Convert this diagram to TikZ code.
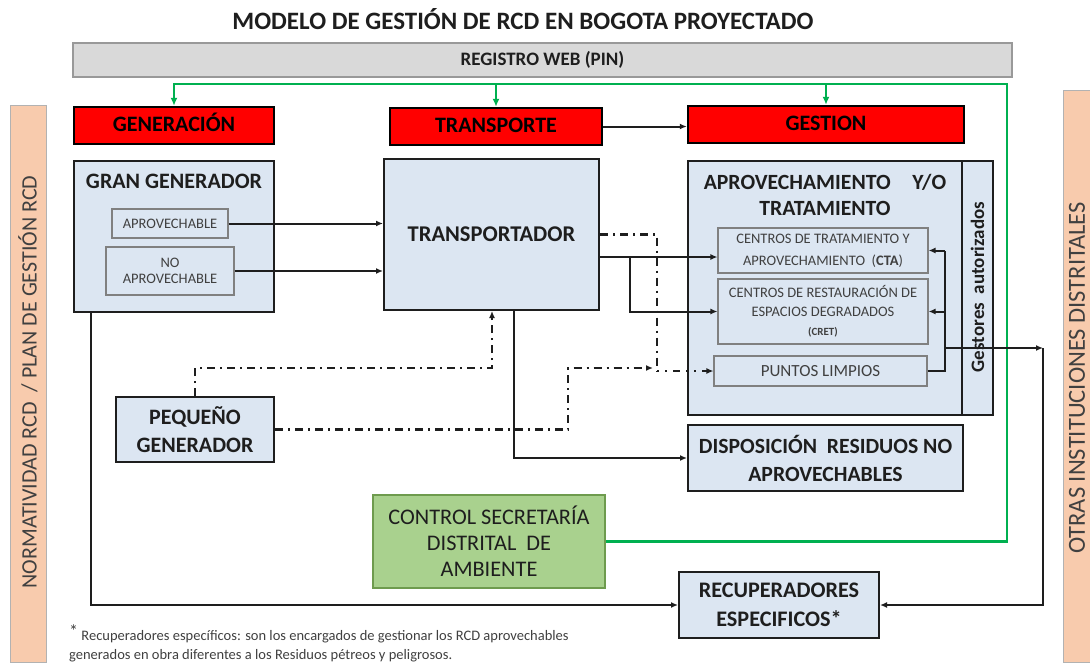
\documentclass[tikz,border=0pt]{standalone}
\usepackage{fontspec}
\setmainfont{Carlito}
\usetikzlibrary{arrows.meta}
\definecolor{boxblue}{HTML}{DCE6F2}
\definecolor{gline}{HTML}{00B050}
\definecolor{ctrlfill}{HTML}{A9D18E}
\definecolor{ctrldraw}{HTML}{6E9B4E}
\definecolor{orangefill}{HTML}{F8CBAD}
\definecolor{barfill}{HTML}{D9D9D9}
\definecolor{txtdark}{HTML}{1E1E1E}
\definecolor{txtgray}{HTML}{404040}
\newcommand\myfs[2]{\fontsize{#1}{#2}\selectfont}
\begin{document}
\begin{tikzpicture}[x=1pt,y=-1pt,
  box/.style={draw=txtdark, line width=2pt, fill=boxblue, inner sep=0pt, align=center, text=txtdark},
  sub/.style={draw=black!50, line width=1.1pt, fill=boxblue, inner sep=0pt, align=center, text=txtgray},
  redbox/.style={draw=black, line width=2.4pt, fill=red, inner sep=0pt, minimum height=37pt, text=black, text height=15pt, text depth=3pt, font=\myfs{22}{24}\bfseries},
  orangebox/.style={draw=black!30, line width=1pt, fill=orangefill, inner sep=0pt},
  sidetxt/.style={rotate=90, text=txtgray, inner sep=0pt},
  btxt/.style={font=\myfs{22}{26}\bfseries, text=txtdark, align=center},
  tip/.style={-{Latex[length=7pt,width=6pt]}},
  arr/.style={draw=txtdark, line width=2pt, tip},
  ln/.style={draw=txtdark, line width=2pt},
  dd/.style={draw=txtdark, line width=2.2pt, dash pattern=on 8pt off 5pt on 2pt off 5pt},
  dots/.style={draw=txtdark, line width=2.2pt, dash pattern=on 2pt off 6pt on 2pt off 6pt on 7pt off 6pt},
  gl/.style={draw=gline, line width=2.4pt},
  gtip/.style={-{Latex[length=8pt,width=7pt]}}
]
\useasboundingbox (0,0) rectangle (1090,665);
\fill[white] (0,0) rectangle (1090,665);

% title and registro bar
\node[font=\myfs{25}{28}\bfseries, text=txtdark] (title) at (523,19) {MODELO DE GESTIÓN DE RCD EN BOGOTA PROYECTADO};
\node[draw=black!40, line width=1.2pt, fill=barfill, minimum width=939pt, minimum height=34pt, inner sep=0pt, font=\myfs{19}{20}\bfseries, text=txtdark] (reg) at (542.5,60) {REGISTRO WEB (PIN)};

% side boxes
\node[orangebox, minimum width=36pt, minimum height=557pt] (lor) at (28,383.5) {};
\node[sidetxt, font=\myfs{22}{24}] (lort) at (28,382) {NORMATIVIDAD RCD\ \ / PLAN DE GESTIÓN RCD};
\node[orangebox, minimum width=30pt, minimum height=572pt] (ror) at (1078,376) {};
\node[sidetxt, font=\myfs{24.5}{27}] (rort) at (1077,378) {OTRAS INSTITUCIONES DISTRITALES};

% red headers
\node[redbox, minimum width=200pt] (gen) at (174,125.5) {GENERACIÓN};
\node[redbox, minimum width=212pt] (trp) at (496,126.5) {TRANSPORTE};
\node[redbox, minimum width=276pt] (ges) at (826,124.5) {GESTION};

% gran generador
\node[box, minimum width=200pt, minimum height=151pt] (gg) at (174,236.5) {};
\node[btxt] (ggt) at (174,181) {GRAN GENERADOR};
\node[sub, minimum width=116pt, minimum height=29pt, font=\myfs{14.5}{16}] (apro) at (170,223.5) {APROVECHABLE};
\node[sub, minimum width=128pt, minimum height=48pt, font=\myfs{14.5}{16}] (noapro) at (170,271) {NO\\APROVECHABLE};

% transportador
\node[box, minimum width=215pt, minimum height=151pt, font=\myfs{22.5}{26}\bfseries] (tra) at (491.5,234.5) {TRANSPORTADOR};

% aprovechamiento
\node[box, minimum width=274pt, minimum height=254pt] (apr) at (825,288) {};
\node[box, minimum width=31pt, minimum height=254pt] (gau) at (977.5,288) {};
\node[rotate=90, font=\myfs{19}{22}\bfseries, text=txtdark] (gaut) at (977.5,287) {Gestores\ \ autorizados};
\node[font=\myfs{21.7}{26}\bfseries, text=txtdark, align=center] (aprt) at (825,195) {APROVECHAMIENTO\quad Y/O\\TRATAMIENTO};
\node[sub, minimum width=210pt, minimum height=45pt, font=\myfs{14.5}{22}] (cta) at (823,250.5) {CENTROS DE TRATAMIENTO Y\\APROVECHAMIENTO\ \ (\textbf{CTA})};
\node[sub, minimum width=210pt, minimum height=65pt, font=\myfs{14.5}{19}] (cret) at (823,311.5) {CENTROS DE RESTAURACIÓN DE\\ESPACIOS DEGRADADOS\\{\myfs{11}{19}\textbf{(CRET)}}};
\node[sub, minimum width=213pt, minimum height=30pt, font=\myfs{17}{20}] (pl) at (820.5,371) {PUNTOS LIMPIOS};

% other boxes
\node[box, minimum width=158pt, minimum height=65pt, font=\myfs{22}{28}\bfseries] (peq) at (195,429.5) {PEQUEÑO\\GENERADOR};
\node[box, minimum width=275pt, minimum height=66pt, font=\myfs{21.7}{28}\bfseries] (disp) at (825.5,458) {DISPOSICIÓN\ \ RESIDUOS NO\\APROVECHABLES};
\node[draw=ctrldraw, line width=1.1pt, fill=ctrlfill, inner sep=0pt, align=center, text=txtdark, minimum width=232pt, minimum height=93pt, font=\myfs{22.3}{26}] (ctrl) at (489,541.5) {CONTROL SECRETARÍA\\DISTRITAL\ \ DE\\AMBIENTE};
\node[box, minimum width=200pt, minimum height=66pt, font=\myfs{22.2}{29}\bfseries] (rec) at (779,605) {RECUPERADORES\\ESPECIFICOS*};

% footnote
\node[anchor=west, align=left, font=\myfs{14.5}{19}, text=txtgray, inner sep=0pt] (fn) at (69,643) {\raisebox{3pt}{\myfs{18}{18}*} Recuperadores específicos: son los encargados de gestionar los RCD aprovechables\\generados en obra diferentes a los Residuos pétreos y peligrosos.};

% coordinates
\coordinate (gtop) at (1007,84);
\coordinate (j1) at (630,257);
\coordinate (dc) at (657,371);
\coordinate (pu) at (492,368);
\coordinate (pv) at (568,368);
\coordinate (pw) at (653,368);
\coordinate (j2) at (514,458);
\coordinate (j3) at (91,604);
\coordinate (vx) at (945,348);
\coordinate (rx) at (1043,348);

% green connectors
\draw[gl,gtip] (ctrl.east) -| (gtop) -| (gen.north);
\draw[gl,gtip] (trp.north |- gtop) -- (trp.north);
\draw[gl,gtip] (ges.north |- gtop) -- (ges.north);

% solid connectors
\draw[arr] (trp.east) -- (trp.east -| ges.west);
\draw[arr] (apro.east) -- (apro.east -| tra.west);
\draw[arr] (noapro.east) -- (noapro.east -| tra.west);
\draw[arr] (tra.east |- j1) -- (cta.west |- j1);
\draw[arr] (j1) |- (cret.west);
\draw[arr] (tra.south -| j2) |- (disp.west);
\draw[arr] (gg.south -| j3) |- (rec.west);
\draw[ln] (pl.east) -| (vx |- cta.east);
\draw[arr] (vx |- cta.east) -- (cta.east);
\draw[arr] (vx |- cret.east) -- (cret.east);
\draw[arr] (vx) -- (rx);
\draw[arr] (rx) |- (rec.east);

% dash-dot connectors
\draw[dd] (tra.east) -| (dc);
\draw[dots,tip] (dc) -- (pl.west);
\draw[dd,tip] (peq.north) |- (pu) -- (pu |- tra.south);
\draw[dd,tip] (peq.east) -| (pv) -- (pw);
\end{tikzpicture}
\end{document}
